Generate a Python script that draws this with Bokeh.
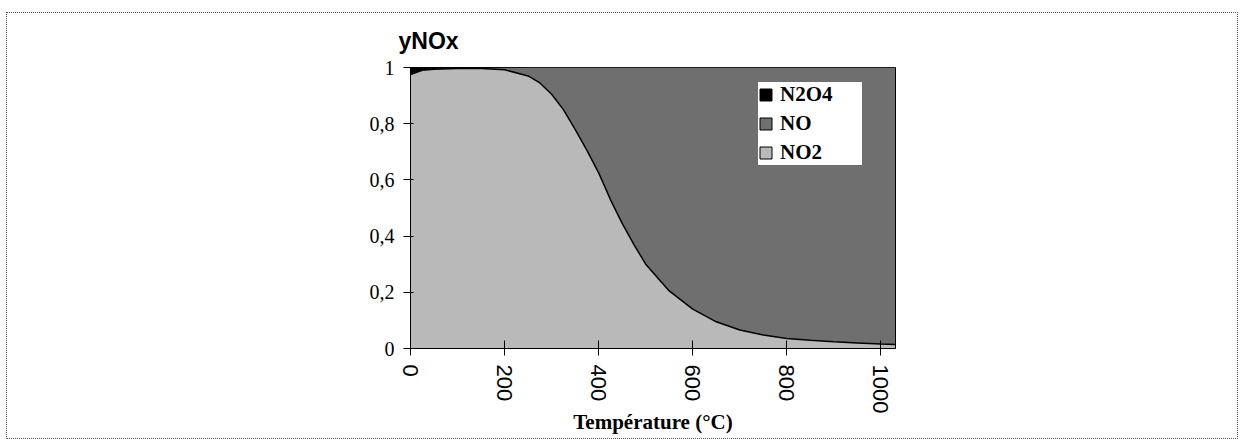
from bokeh.plotting import figure
from bokeh.models import (ColumnDataSource, Range1d, FixedTicker, Legend, LegendItem, Title)
from bokeh.embed import file_html
from bokeh.resources import INLINE

# ---- data ----
temperature = [0, 25, 50, 100, 150, 200, 250, 275, 300, 325, 350, 375, 400, 425, 450,
               475, 500, 550, 600, 650, 700, 750, 800, 850, 900, 950, 1000, 1030]
y_no2 = [0.975, 0.990, 0.994, 0.996, 0.996, 0.992, 0.970, 0.945, 0.905, 0.850, 0.780,
         0.705, 0.625, 0.530, 0.445, 0.370, 0.300, 0.205, 0.140, 0.095, 0.066, 0.048,
         0.036, 0.029, 0.024, 0.020, 0.016, 0.014]
y_no = [0.000, 0.000, 0.001, 0.001, 0.002, 0.007, 0.030, 0.055, 0.095, 0.150, 0.220,
        0.295, 0.375, 0.470, 0.555, 0.630, 0.700, 0.795, 0.860, 0.905, 0.934, 0.952,
        0.964, 0.971, 0.976, 0.980, 0.984, 0.986]
y_n2o4 = [0.025, 0.010, 0.005, 0.003, 0.002, 0.001, 0.0, 0.0, 0.0, 0.0, 0.0,
          0.0, 0.0, 0.0, 0.0, 0.0, 0.0, 0.0, 0.0, 0.0, 0.0, 0.0,
          0.0, 0.0, 0.0, 0.0, 0.0, 0.0]
series_names = ["NO2", "NO", "N2O4"]
series_colors = ["#b9b9b9", "#6f6f6f", "#000000"]
legend_order = ["N2O4", "NO", "NO2"]
x_ticks = [0, 200, 400, 600, 800, 1000]
y_ticks = [0, 0.2, 0.4, 0.6, 0.8, 1]
y_tick_labels = ["0", "0,2", "0,4", "0,6", "0,8", "1"]
x_title = "Température (°C)"
y_title = "yNOx"

src = ColumnDataSource(dict(T=temperature, NO2=y_no2, NO=y_no, N2O4=y_n2o4))

W, H = 1232, 427
FW, FH = 483, 279
LEFT, TOP = 403, 54
p = figure(width=W, height=H, output_backend="svg", toolbar_location=None,
           x_range=Range1d(0, 1031), y_range=Range1d(0, 1),
           min_border_left=LEFT, min_border_right=W - 2 - LEFT - FW,
           min_border_top=TOP, min_border_bottom=H - 2 - TOP - FH)
p.styles = {"border": "1px dotted #555555", "box-sizing": "border-box",
            "margin-left": "6px", "margin-top": "12px"}
p.background_fill_color = "white"
p.border_fill_color = "white"
p.outline_line_color = "black"
p.outline_line_width = 1
p.xgrid.visible = False
p.ygrid.visible = False

p.varea_stack(stackers=series_names, x="T", color=series_colors, source=src)
p.line(x="T", y="NO2", source=src, line_color="black", line_width=1.5)

# legend swatches (placeholder renderers with no visible geometry, used only for the legend)
nan = float("nan")
sw = {}
for name, col in zip(series_names, series_colors):
    sw[name] = p.quad(top=[nan], bottom=[nan], left=[nan], right=[nan], fill_color=col,
                      line_color="black", line_width=1)
legend = Legend(items=[LegendItem(label=n, renderers=[sw[n]]) for n in legend_order],
                location=(348, 183))
legend.background_fill_color = "white"
legend.background_fill_alpha = 1
legend.border_line_color = None
legend.label_text_font = "Liberation Serif"
legend.label_text_font_style = "bold"
legend.label_text_font_size = "21px"
legend.label_text_color = "black"
legend.glyph_width = 15
legend.glyph_height = 15
legend.label_height = 25
legend.label_width = 82
legend.label_standoff = 7
legend.spacing = 4
legend.padding = 20
legend.margin = 0
p.add_layout(legend, "center")

# axes
p.xaxis.ticker = FixedTicker(ticks=x_ticks)
p.xaxis.minor_tick_line_color = None
p.xaxis.major_tick_in = 8
p.xaxis.major_tick_out = 7
p.xaxis.major_tick_line_color = "black"
p.xaxis.axis_line_color = "black"
p.xaxis.major_label_orientation = "vertical"
p.xaxis.major_label_text_font = "Liberation Sans"
p.xaxis.major_label_text_font_size = "22px"
p.xaxis.major_label_text_color = "black"
p.xaxis.major_label_standoff = 9
p.xaxis.axis_label = x_title
p.xaxis.axis_label_text_font = "Liberation Serif"
p.xaxis.axis_label_text_font_style = "bold"
p.xaxis.axis_label_text_font_size = "21px"
p.xaxis.axis_label_text_color = "black"
p.xaxis.axis_label_standoff = -6

p.yaxis.ticker = FixedTicker(ticks=y_ticks)
p.yaxis.major_label_overrides = {t: s for t, s in zip(y_ticks, y_tick_labels)}
p.yaxis.minor_tick_line_color = None
p.yaxis.major_tick_in = 3
p.yaxis.major_tick_out = 7
p.yaxis.major_tick_line_color = "black"
p.yaxis.axis_line_color = "black"
p.yaxis.major_label_text_font = "Liberation Serif"
p.yaxis.major_label_text_font_size = "20px"
p.yaxis.major_label_text_color = "black"
p.yaxis.major_label_standoff = 9

t = Title(text=y_title, align="left", offset=-12, standoff=24, vertical_align="top",
          text_font="Liberation Sans", text_font_style="bold", text_font_size="23px",
          text_color="black")
p.add_layout(t, "above")

open("out.html", "w").write(file_html(p, INLINE))
